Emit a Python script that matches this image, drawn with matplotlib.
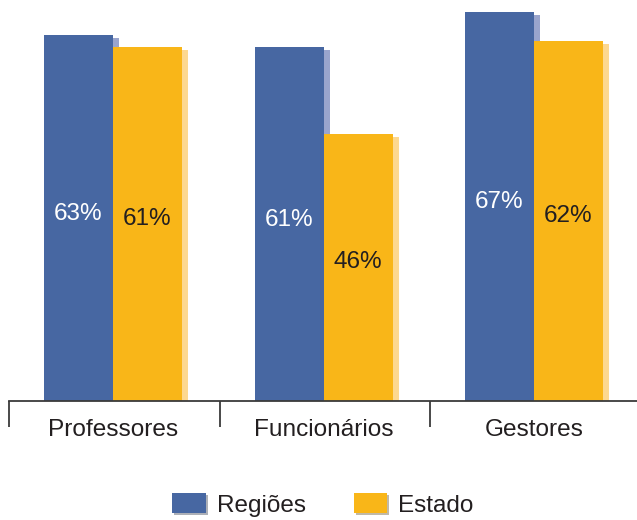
import matplotlib.pyplot as plt
import matplotlib.patheffects as pe
from matplotlib.patches import Patch
import numpy as np

# Data
categories = ['Professores', 'Funcionários', 'Gestores']
regioes = [63, 61, 67]
estado = [61, 46, 62]
series_names = ['Regiões', 'Estado']

blue = '#4767A2'
blue_shadow = '#9AA5CD'
orange = '#F9B618'
orange_shadow = '#FDD88F'
dark = '#231F20'

plt.rcParams['font.family'] = ['Liberation Sans', 'DejaVu Sans']

fig = plt.figure(figsize=(6.37, 5.2), dpi=100)
# axes: baseline at 401 px from top, left 9 px, right 637 px
ax = fig.add_axes([9 / 637, 1 - 401 / 520, 628 / 637, 401 / 520])

px_x = 1 / 210.5       # data units per pixel along x
px_y = 1 / 5.806       # data units per pixel along y
width = 69 * px_x
x = np.arange(len(categories))

# shadows
ax.bar(x - width / 2 + 6 * px_x, np.array(regioes) - 3 * px_y, width,
       color=blue_shadow, zorder=1)
ax.bar(x + width / 2 + 6 * px_x, np.array(estado) - 3 * px_y, width,
       color=orange_shadow, zorder=1)
# bars
ax.bar(x - width / 2, regioes, width, color=blue, zorder=2)
ax.bar(x + width / 2, estado, width, color=orange, zorder=2)

for i in range(len(categories)):
    ax.text(x[i] - width / 2, regioes[i] / 2 + 0.75, f'{regioes[i]}%',
            ha='center', va='center', color='white', fontsize=17.5, zorder=3)
    ax.text(x[i] + width / 2, estado[i] / 2 + 0.9, f'{estado[i]}%',
            ha='center', va='center', color=dark, fontsize=17.5, zorder=3)

ax.set_xlim(-104 * px_x, 2 + 103 * px_x)
ax.set_ylim(0, 401 * px_y)

for s in ['top', 'left', 'right']:
    ax.spines[s].set_visible(False)
ax.spines['bottom'].set_color('#3a3a3a')
ax.spines['bottom'].set_linewidth(1.3)
ax.set_yticks([])

ax.set_xticks(x)
ax.set_xticklabels(categories, fontsize=17.6, color=dark)
ax.tick_params(axis='x', which='major', length=0, pad=13)
ax.set_xticks([-0.494, 0.508, 1.506], minor=True)
ax.tick_params(axis='x', which='minor', length=19, width=1.3,
               color='#3a3a3a', direction='out')

shadow = [pe.withSimplePatchShadow(offset=(1.5, -1.5), alpha=0.35), pe.Normal()]
handles = [Patch(facecolor=blue, edgecolor='none', path_effects=shadow),
           Patch(facecolor=orange, edgecolor='none', path_effects=shadow)]
fig.legend(handles, series_names, loc='center',
           bbox_to_anchor=(323 / 637, 1 - 505 / 520), ncol=2, frameon=False,
           fontsize=17.5, handlelength=1.39, handleheight=0.86,
           handletextpad=0.45, columnspacing=1.95, labelcolor=dark)

fig.savefig('out.png', dpi=100)
